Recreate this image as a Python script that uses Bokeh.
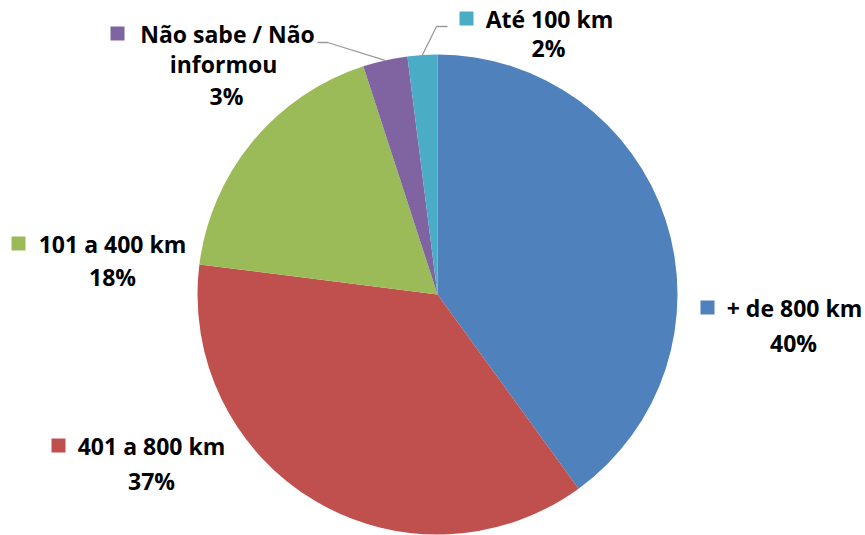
import math
from bokeh.plotting import figure
from bokeh.models import Range1d, ColumnDataSource
from bokeh.core.properties import value
from bokeh.embed import file_html
from bokeh.resources import INLINE

# ---- data ----
categories = ["+ de 800 km", "401 a 800 km", "101 a 400 km", "Não sabe / Não informou", "Até 100 km"]
values = [40, 37, 18, 3, 2]
pct_labels = ["40%", "37%", "18%", "3%", "2%"]

# ---- styles / layout ----
colors = ["#4F81BD", "#C0504D", "#9BBB59", "#8064A2", "#4BACC6"]
W, H = 865, 535
CX, CY, R = 437, 241, 240
FONT = value("Open Sans")
FS = "23px"

p = figure(width=W, height=H, output_backend="svg", toolbar_location=None,
           x_range=Range1d(0, W), y_range=Range1d(0, H),
           x_axis_type=None, y_axis_type=None, min_border=0)
p.grid.visible = False
p.outline_line_color = None
p.background_fill_color = "white"

total = sum(values)
starts, ends, mids = [], [], []
cum = 0.0
for v in values:
    a0 = math.pi / 2 - 2 * math.pi * cum / total
    cum += v
    a1 = math.pi / 2 - 2 * math.pi * cum / total
    starts.append(a0)
    ends.append(a1)
    mids.append((a0 + a1) / 2)

src = ColumnDataSource(dict(cat=categories, val=values, start=starts, end=ends, color=colors))
p.wedge(x=CX, y=CY, radius=R, start_angle="start", end_angle="end", direction="clock",
        fill_color="color", line_color=None, source=src)

# label layout per slice: (square x, y), lines [(text, x, y)]
layout = [
    ((707, 228), [(categories[0], 794, 228), (pct_labels[0], 793, 193)]),
    ((58, 90), [(categories[1], 151, 90), (pct_labels[1], 151, 55)]),
    ((18, 292), [(categories[2], 112, 292), (pct_labels[2], 112, 259)]),
    ((117, 502), [("Não sabe / Não", 227, 502), ("informou", 223, 472), (pct_labels[3], 226, 440)]),
    ((466, 517), [(categories[4], 549, 517), (pct_labels[4], 548, 488)]),
]

# leader lines for the small slices (from slice edge to label)
leader_ends = {3: [(327, 493), (317, 493)], 4: [(436, 509), (447, 509)]}
for i, pts in leader_ends.items():
    sx = CX + R * math.cos(mids[i])
    sy = CY + R * math.sin(mids[i])
    xs = [sx] + [q[0] for q in pts]
    ys = [sy] + [q[1] for q in pts]
    p.line(xs, ys, line_color="#9a9a9a", line_width=1.3)

for i, (sq, lines) in enumerate(layout):
    p.rect(x=sq[0], y=sq[1], width=14, height=14, fill_color=colors[i], line_color=None)
    for t, x, y in lines:
        p.text(x=[x], y=[y], text=[t], text_font=FONT, text_font_style="bold",
               text_font_size=FS, text_align="center", text_baseline="middle",
               text_color="#000000")

open("out.html", "w").write(file_html(p, INLINE))
